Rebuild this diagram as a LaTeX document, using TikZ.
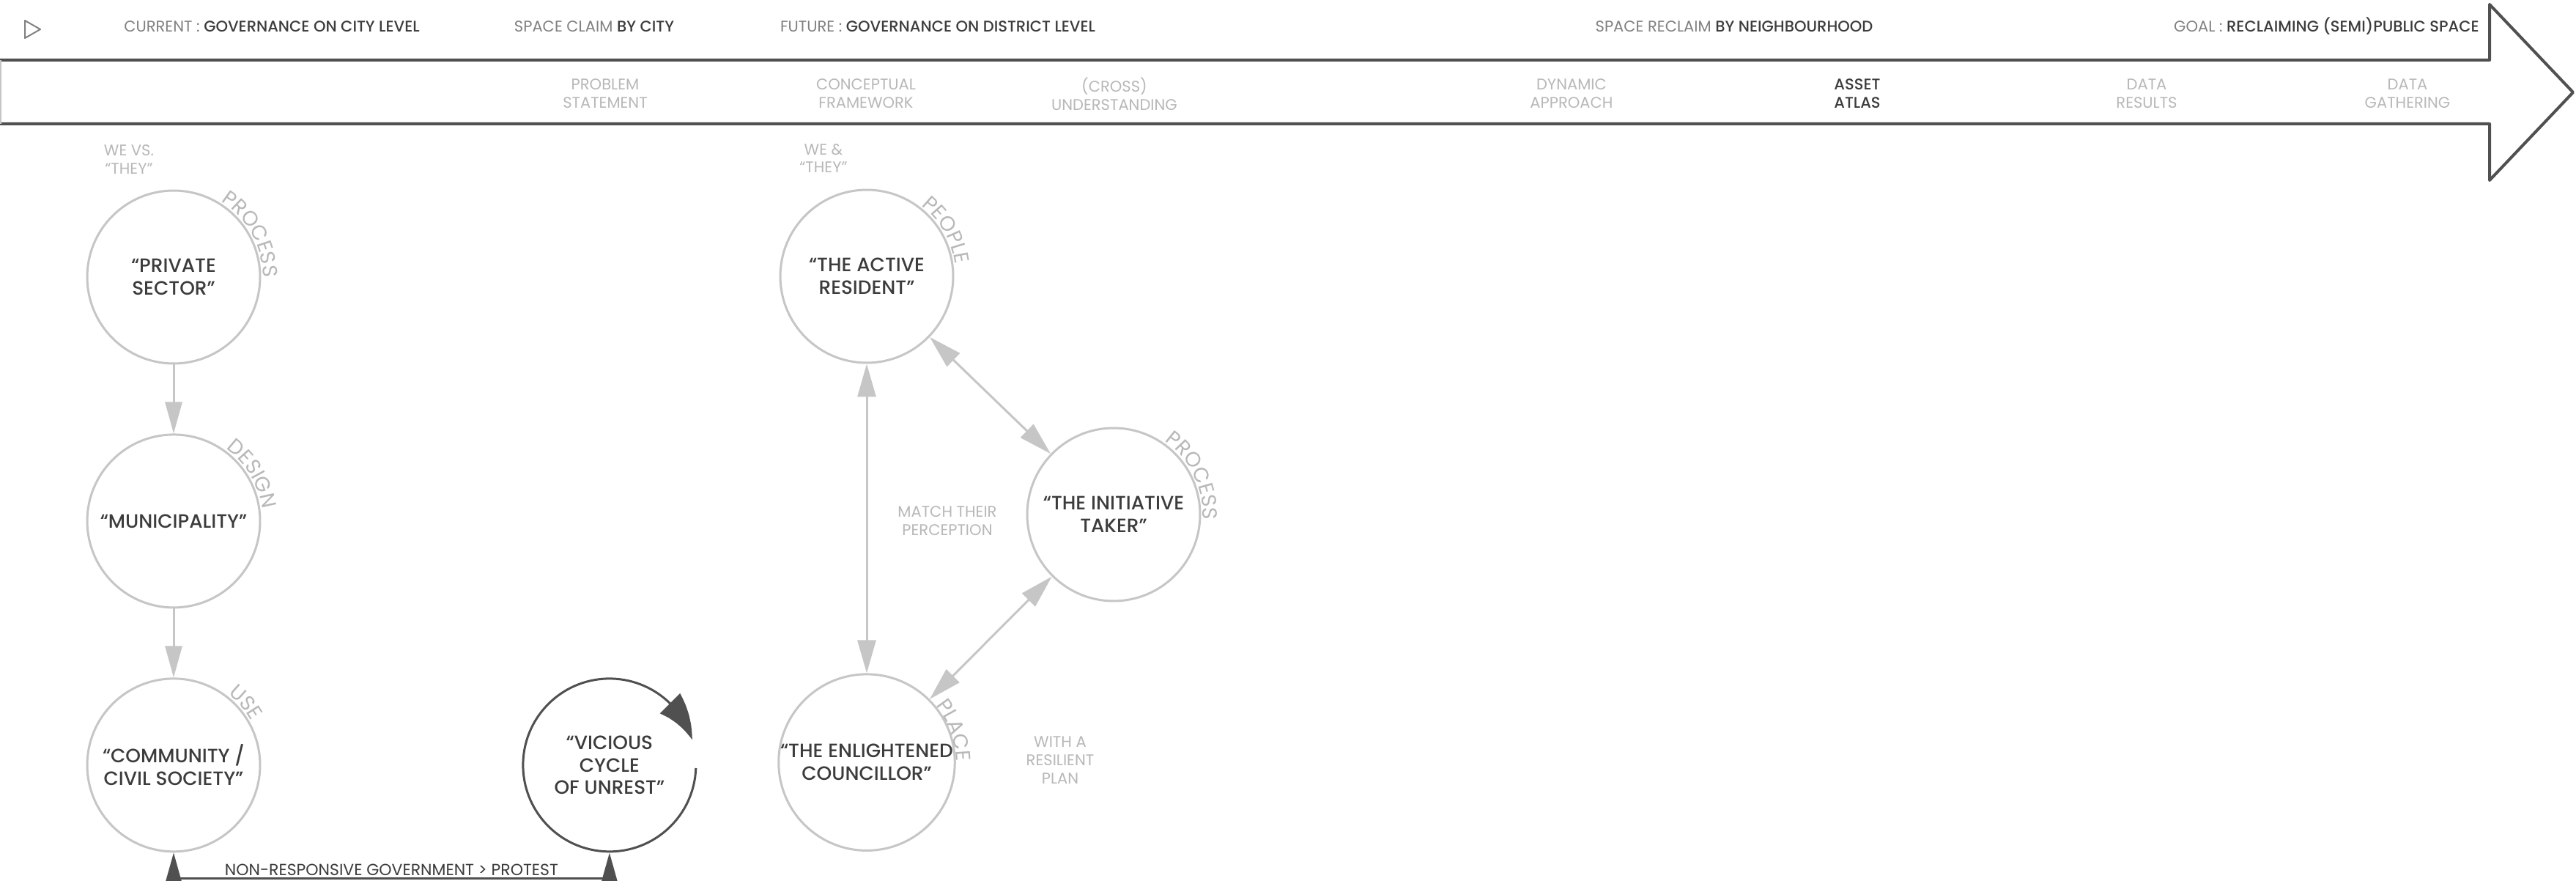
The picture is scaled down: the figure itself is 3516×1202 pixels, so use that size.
\documentclass[tikz,border=0pt]{standalone}
\usepackage{fontspec}
\setmainfont{Poppins}
\newfontfamily\lightfont{Poppins}
\newfontfamily\medfont{Poppins Medium}
\usepackage{tikz}
\usetikzlibrary{positioning}
\usetikzlibrary{shapes.geometric, arrows.meta, bending, decorations.text}

\definecolor{ink}{HTML}{3C3C3C}
\definecolor{arrowgray}{HTML}{505050}
\definecolor{ringgray}{HTML}{C6C6C6}
\definecolor{labelgray}{HTML}{B8B8B8}
\definecolor{headgray}{HTML}{808080}

\tikzstyle{actor} = [circle,draw=ringgray,line width=0.06cm,minimum size=4.72cm,inner sep=0pt,align=center,text=ink,font=\medfont\fontsize{15}{17.5}\selectfont]
\tikzstyle{arrow} = [draw=ringgray,line width=0.06cm,-{Triangle[length=0.86cm,width=0.46cm]}]
\tikzstyle{twoway} = [arrow,{Triangle[length=0.9cm,width=0.5cm]}-{Triangle[length=0.9cm,width=0.5cm]}]
\tikzstyle{darkline} = [draw=arrowgray,line width=0.06cm]
\tikzstyle{note} = [align=center,inner sep=0pt,text=labelgray,font=\lightfont\fontsize{12}{14.2}\selectfont]
\tikzstyle{header} = [inner sep=0pt,text=headgray,font=\lightfont\fontsize{12}{13}\selectfont]

\newcommand{\keyword}[1]{{\medfont\color{ink}#1}}
\newcommand{\ringfont}{\color{labelgray}\lightfont\fontsize{16}{16}\selectfont}
\newcommand{\ringlabel}[3]{%
	\path[decorate,decoration={text along path,text align=center,text={|\ringfont|#3}}]
		(#1.center) ++(#2+40:2.44cm) arc[start angle=#2+40,end angle=#2-40,radius=2.44cm];}

\begin{document}
\begin{tikzpicture}[x=0.02cm,y=-0.02cm]
	\fill[white] (0,0) rectangle (3516,1202);
	\useasboundingbox (0,0) rectangle (3516,1202);

	%Timeline
	\draw[arrowgray,line width=0.08cm,line join=round] (0,82) -- (3398,82) -- (3398,6) -- (3512,126) -- (3398,246) -- (3398,169) -- (0,169);
	\draw[ringgray,line width=0.03cm] (1,82) -- (1,169);
	\draw[headgray,line width=0.04cm,line join=round] (34,28) -- (55,40) -- (34,52) -- cycle;

	\node[header,anchor=base] (now) at (371,44) {CURRENT : \keyword{GOVERNANCE ON CITY LEVEL}};
	\node[header,anchor=base] (claim) at (811,44) {SPACE CLAIM \keyword{BY CITY}};
	\node[header,anchor=base] (future) at (1280,44) {FUTURE : \keyword{GOVERNANCE ON DISTRICT LEVEL}};
	\node[header,anchor=base] (reclaim) at (2367,44) {SPACE RECLAIM \keyword{BY NEIGHBOURHOOD}};
	\node[header,anchor=base east] (goal) at (3384,44) {GOAL : \keyword{RECLAIMING (SEMI)PUBLIC SPACE}};

	\node[note] (problem) at (826,128) {PROBLEM\\STATEMENT};
	\node[note] (concept) at (1182,128) {CONCEPTUAL\\FRAMEWORK};
	\node[note] (cross) at (1521,128) {(CROSS)\\UNDERSTANDING};
	\node[note] (dynamic) at (2145,128) {DYNAMIC\\APPROACH};
	\node[note,text=ink,font=\medfont\fontsize{12}{14.2}\selectfont] (atlas) at (2535,128) {ASSET\\ATLAS};
	\node[note] (results) at (2930,128) {DATA\\RESULTS};
	\node[note] (gather) at (3286,128) {DATA\\GATHERING};

	%Nodes
	\node[actor] (Priv) at (237,378) {“PRIVATE\\SECTOR”};
	\node[actor,below=1.88cm of Priv] (Muni) {“MUNICIPALITY”};
	\node[actor,below=1.88cm of Muni] (Com) {“COMMUNITY /\\CIVIL SOCIETY”};
	\node[actor,draw=none,right=7.12cm of Com] (Vic) {“VICIOUS\\CYCLE\\OF UNREST”};

	\node[actor] (Active) at (1183,377) {“THE ACTIVE\\RESIDENT”};
	\node[actor] (Init) at (1520,702) {“THE INITIATIVE\\TAKER”};
	\node[actor,below=8.44cm of Active] (Enl) {“THE ENLIGHTENED\\COUNCILLOR”};

	\node[note] (versus) at (176,218) {WE VS.\\“THEY”};
	\node[note] (together) at (1124,216) {WE \&\\“THEY”};
	\node[note] (match) at (1293,711) {MATCH THEIR\\PERCEPTION};
	\node[note] (plan) at (1447,1037) {WITH A\\RESILIENT\\PLAN};

	\ringlabel{Priv}{29}{PROCESS}
	\ringlabel{Muni}{31}{DESIGN}
	\ringlabel{Com}{41}{USE}
	\ringlabel{Active}{30}{PEOPLE}
	\ringlabel{Init}{26}{PROCESS}
	\ringlabel{Enl}{20}{PLACE}

	%Lines
	\draw[arrow] (Priv) -- (Muni);
	\draw[arrow] (Muni) -- (Com);
	\draw[twoway] (Active) -- (Enl);
	\draw[twoway] (Active) -- (Init);
	\draw[twoway] (Init) -- (Enl);

	\draw[darkline,-{Triangle[length=1.2cm,width=0.76cm,bend]}] (Vic.center) ++(-2:2.36cm) arc[start angle=-2,end angle=-343,radius=2.36cm];

	\coordinate (floor) at (0,1198);
	\draw[darkline,{Triangle[length=0.82cm,width=0.44cm]}-{Triangle[length=0.82cm,width=0.44cm]}] (Com.south) -- (Com.south |- floor)
		-- node[above,inner sep=1pt,text=ink,font=\fontsize{12.5}{12.5}\selectfont] (protest) {NON-RESPONSIVE GOVERNMENT > PROTEST} (Vic.south |- floor) -- (Vic.south);
\end{tikzpicture}
\end{document}
